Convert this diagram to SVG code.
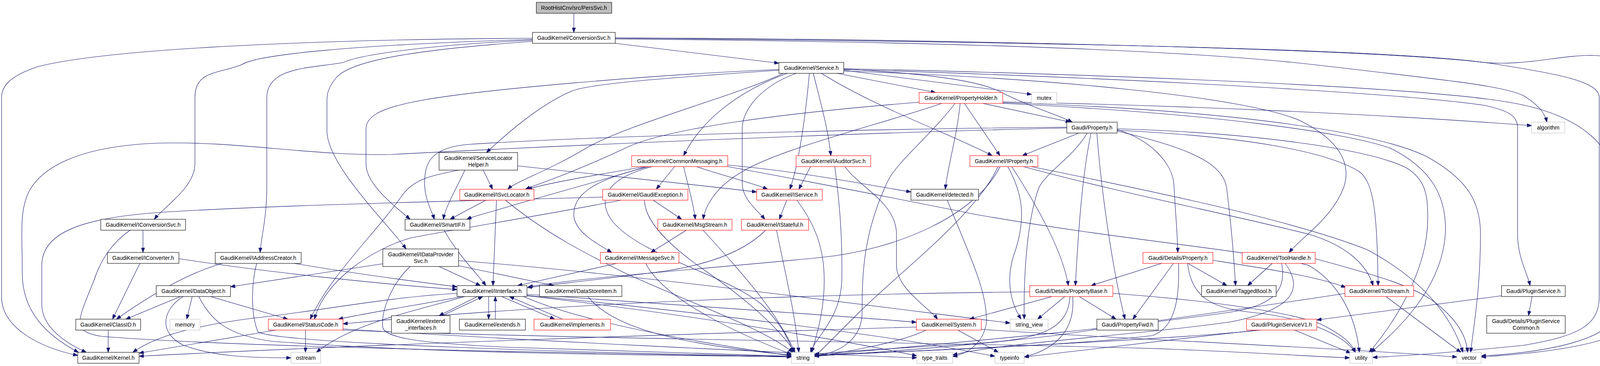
<svg xmlns="http://www.w3.org/2000/svg" width="4207" height="938" viewBox="0 0 4207 938">
<style>
rect{stroke-width:1.1}
.nb rect{fill:#fff;stroke:#000}
.nr rect{fill:#fff;stroke:#ff0000}
.ng rect{fill:#fff;stroke:#bfbfbf}
.root rect{fill:#bfbfbf;stroke:#000}
text{font-family:"Liberation Sans",Arial,sans-serif;font-size:14px;fill:#000;text-anchor:middle}
#edges path{fill:none;stroke:#191970;stroke-width:1.1;marker-end:url(#a)}
</style>
<defs>
<marker id="a" markerUnits="userSpaceOnUse" markerWidth="12" markerHeight="9" refX="12" refY="4.5" orient="auto"><path d="M0,0 L12,4.5 L0,9 z" fill="#191970" stroke="#191970" stroke-width="1"/></marker>
</defs>
<rect x="0" y="0" width="4207" height="938" fill="#fff"/>
<g id="edges">
<path d="M1469,34 L1469,83"/>
<path d="M1575,111 L1994,162"/>
<path d="M1363,98 C900,100 300,120 100,170 C20,195 4,225 4,250 L4,760 C4,840 100,890 199,911"/>
<path d="M1363,101 C900,115 660,140 620,165 C560,190 499,180 499,250 L499,420 C499,480 420,530 395,562"/>
<path d="M1363,103 C1100,115 920,140 880,160 C800,175 683,170 683,250 L683,480 C683,560 668,610 666,647"/>
<path d="M1363,106 C1100,125 900,150 860,200 C840,225 837,240 837,260 L837,335 C837,420 980,560 1040,638"/>
<path d="M1575,100 C2200,105 3000,120 3400,170 C3700,205 3850,220 3900,245 C3940,270 3955,290 3960,313"/>
<path d="M1575,98 C2400,105 3500,120 3800,160 C4000,190 4094,210 4094,250 L4094,760 C4094,830 4050,860 3900,885 C3700,905 3600,912 3514,916"/>
<path d="M1575,97 C2400,100 3500,125 3800,160 C3900,170 4000,140 4080,142 C4170,145 4191,200 4191,250 L4191,800 C4191,880 3950,905 3792,915"/>
<path d="M1994,178 C1700,190 1200,230 1050,263 C970,280 937,300 937,330 L937,420 C937,470 1000,520 1050,562"/>
<path d="M1994,180 C1700,200 1500,215 1460,235 C1380,270 1300,340 1245,391"/>
<path d="M2005,188 C1900,240 1600,320 1500,380 C1400,440 1320,465 1300,485"/>
<path d="M2015,188 C1900,230 1800,300 1750,399"/>
<path d="M2038,188 C1950,220 1900,280 1900,330 L1900,470 C1900,510 1940,540 1958,562"/>
<path d="M2072,188 C2062,300 2045,420 2022,485"/>
<path d="M2082,188 C2100,260 2120,330 2127,399"/>
<path d="M2103,188 C2250,280 2450,350 2540,399"/>
<path d="M2143,188 L2395,237"/>
<path d="M2160,180 L2641,242"/>
<path d="M2160,177 C2400,190 2520,210 2570,240 C2640,275 2710,295 2745,313"/>
<path d="M2160,176 C2800,190 3600,220 3850,260 C4050,290 4134,380 4134,470 L4134,800 C4134,870 3950,905 3792,912"/>
<path d="M2160,178 C2900,200 3600,240 3800,270 C3870,285 3885,300 3885,330 L3885,600 C3885,660 3910,700 3917,732"/>
<path d="M2160,182 C2700,200 3200,250 3330,310 C3430,360 3460,420 3440,480 C3410,560 3330,610 3300,647"/>
<path d="M2353,262 C2000,290 1700,330 1600,380 C1450,450 1380,470 1345,485"/>
<path d="M2411,265 C2250,320 2000,380 1900,440 C1830,480 1805,530 1800,562"/>
<path d="M2445,265 C2380,350 2290,420 2270,470 C2210,600 2207,700 2207,800 C2207,870 2150,905 2085,912"/>
<path d="M2458,265 C2450,350 2425,430 2420,485"/>
<path d="M2469,265 L2560,399"/>
<path d="M2516,265 L2740,313"/>
<path d="M2567,261 C3000,270 3500,290 3921,322"/>
<path d="M2567,263 C3100,280 3500,330 3650,400 C3760,460 3790,520 3790,600 C3790,750 3770,850 3765,903"/>
<path d="M2567,265 C3100,290 3450,340 3560,380 C3660,430 3705,500 3700,600 C3690,750 3560,860 3510,903"/>
<path d="M2731,328 C2200,340 1500,370 1000,396 C800,400 600,360 400,367 C200,375 100,430 70,500 C50,550 57,600 57,700 C57,800 120,860 201,903"/>
<path d="M2731,326 C2200,330 1500,350 1200,370 C1100,378 1087,420 1087,470 C1087,510 1105,540 1112,562"/>
<path d="M2762,341 L2617,399"/>
<path d="M2783,341 C2750,400 2680,440 2660,480 C2630,560 2620,700 2622,818"/>
<path d="M2793,341 C2770,450 2760,600 2753,732"/>
<path d="M2808,341 C2820,500 2850,700 2880,818"/>
<path d="M2860,332 C2950,360 3000,420 3005,470 C3010,560 3015,610 3015,647"/>
<path d="M2860,336 C3050,380 3130,420 3140,480 C3155,600 3160,680 3163,732"/>
<path d="M2860,330 C3200,340 3500,380 3600,430 C3650,460 3655,500 3655,560 C3655,700 3560,840 3505,903"/>
<path d="M2860,334 C3200,350 3400,390 3480,440 C3520,470 3525,560 3528,732"/>
<path d="M366,590 L366,647"/>
<path d="M333,590 C290,620 260,660 240,720 C200,820 180,850 260,862 C600,890 1500,905 2026,915"/>
<path d="M358,675 L288,818"/>
<path d="M458,663 C700,700 1000,730 1170,742"/>
<path d="M569,675 C480,700 380,760 298,818"/>
<path d="M753,675 C900,700 1050,720 1170,735"/>
<path d="M657,675 C645,720 640,800 660,850 C700,880 1500,905 2026,913"/>
<path d="M462,760 L322,818"/>
<path d="M492,760 L478,818"/>
<path d="M469,760 C420,790 400,850 470,885 C550,915 650,917 745,917"/>
<path d="M539,760 L737,818"/>
<path d="M509,760 C540,820 580,860 700,875 C1100,905 1600,910 2026,914"/>
<path d="M277,846 L277,903"/>
<path d="M706,846 L356,905"/>
<path d="M782,846 L782,903"/>
<path d="M878,843 C1300,870 2000,905 2347,917"/>
<path d="M878,846 C1500,870 2600,880 3000,895 C3250,905 3380,915 3455,917"/>
<path d="M1170,752 C1000,760 800,800 643,816 C500,835 400,860 340,903"/>
<path d="M1184,760 C1050,785 950,800 866,818"/>
<path d="M1190,760 C1050,800 900,830 810,903"/>
<path d="M1222,760 L1124,809"/>
<path d="M1132,809 L1236,760"/>
<path d="M1251,760 L1251,818"/>
<path d="M1268,818 L1268,760"/>
<path d="M1284,760 L1420,818"/>
<path d="M1440,818 L1304,760"/>
<path d="M1349,754 C1700,780 2100,805 2346,826"/>
<path d="M1349,758 C1800,810 2200,880 2347,912"/>
<path d="M1349,757 C1700,790 2100,840 2300,870 C2450,893 2500,905 2547,913"/>
<path d="M1340,760 C1500,830 1800,880 2026,912"/>
<path d="M1505,760 C1560,830 1700,880 2026,910"/>
<path d="M980,676 L590,735"/>
<path d="M1124,683 L1230,732"/>
<path d="M1174,681 L1418,732"/>
<path d="M1174,668 C1600,700 2200,780 2586,828"/>
<path d="M1050,683 C1000,730 975,800 980,840 C990,870 1100,880 1300,890 C1600,900 1850,908 2026,913"/>
<path d="M1190,436 C1170,480 1140,530 1135,562"/>
<path d="M1237,436 L1261,485"/>
<path d="M1175,436 C1100,450 1060,460 1030,500 C960,600 850,700 794,818"/>
<path d="M1325,425 C1550,450 1800,475 1937,492"/>
<path d="M1650,427 C1550,445 1420,465 1350,485"/>
<path d="M1655,427 C1550,460 1400,500 1300,530 C1240,548 1210,555 1195,562"/>
<path d="M1662,427 C1520,460 1460,500 1470,560 C1480,600 1530,625 1566,647"/>
<path d="M1670,427 C1540,460 1530,520 1570,570 C1650,660 1850,700 1950,780 C2000,830 2020,870 2030,903"/>
<path d="M1727,427 L1680,485"/>
<path d="M1750,427 C1760,470 1775,520 1780,562"/>
<path d="M1783,427 C1850,450 1930,470 1965,485"/>
<path d="M1863,423 C2050,440 2200,470 2332,492"/>
<path d="M1863,427 C2100,470 2300,510 2500,550 C2900,620 3200,640 3350,680 C3420,720 3470,800 3480,903"/>
<path d="M2075,427 L2045,485"/>
<path d="M2163,427 C2200,480 2295,520 2295,600 L2295,680 C2295,740 2380,790 2400,818"/>
<path d="M2137,427 C2150,520 2157,620 2155,720 C2150,820 2090,860 2075,903"/>
<path d="M2560,427 C2500,550 2300,640 2100,660 C1800,690 1500,710 1352,735"/>
<path d="M2555,427 C2500,550 2300,700 2200,800 C2150,850 2110,890 2085,915"/>
<path d="M2580,427 C2620,500 2625,560 2600,640 C2570,720 2590,780 2614,818"/>
<path d="M2590,427 C2650,520 2720,640 2735,732"/>
<path d="M2640,427 C2900,480 3300,560 3500,640 C3650,720 3720,820 3745,903"/>
<path d="M2620,427 C2850,490 3150,550 3350,600 C3450,630 3500,680 3515,732"/>
<path d="M1244,513 L1152,562"/>
<path d="M1271,513 C1268,600 1264,680 1262,732"/>
<path d="M1294,513 C1400,600 1500,650 1600,700 C1800,790 1950,840 2030,903"/>
<path d="M1543,505 C1200,515 700,525 400,545 C200,560 107,600 107,680 L107,780 C107,840 170,880 221,903"/>
<path d="M1590,513 C1400,550 1150,590 1050,610 C950,640 830,720 805,818"/>
<path d="M1672,513 L1745,562"/>
<path d="M1650,513 C1650,560 1700,620 1800,690 C1930,780 2000,850 2035,903"/>
<path d="M2014,513 L1995,562"/>
<path d="M2040,513 C2090,580 2110,640 2110,720 C2110,800 2090,860 2078,903"/>
<path d="M1757,590 L1666,647"/>
<path d="M1800,590 C1900,700 1990,800 2035,903"/>
<path d="M1960,590 C1900,650 1800,680 1700,695 C1550,715 1420,728 1350,737"/>
<path d="M1988,590 C2010,700 2035,800 2045,903"/>
<path d="M1579,675 L1325,732"/>
<path d="M1653,675 C1700,770 1900,860 2026,908"/>
<path d="M2425,513 C2480,650 2530,750 2525,830 C2515,880 2480,905 2439,914"/>
<path d="M1137,590 C1170,650 1220,700 1244,732"/>
<path d="M2636,748 C2000,755 1400,780 878,830"/>
<path d="M2693,760 L2482,818"/>
<path d="M2726,760 L2656,818"/>
<path d="M2763,760 L2857,818"/>
<path d="M2739,760 C2735,850 2650,870 2500,880 C2300,893 2150,900 2085,908"/>
<path d="M2746,760 C2752,830 2720,890 2622,915"/>
<path d="M2849,752 C3100,770 3300,800 3380,830 C3440,860 3460,880 3470,903"/>
<path d="M2974,675 L2793,732"/>
<path d="M3004,675 L2900,818"/>
<path d="M3041,675 L3141,732"/>
<path d="M3105,667 C3250,690 3380,710 3445,737"/>
<path d="M3017,675 C3020,760 3010,840 2950,860 C2700,890 2300,900 2085,910"/>
<path d="M3040,675 C3050,760 3100,790 3200,800 C3350,815 3440,860 3470,903"/>
<path d="M3257,675 L3194,732"/>
<path d="M3367,663 C3500,700 3620,730 3680,780 C3740,830 3755,870 3757,903"/>
<path d="M3281,675 C3290,730 3280,780 3150,800 C2800,850 2300,890 2085,912"/>
<path d="M3290,675 C3330,730 3330,790 3150,825 C2900,860 2550,880 2439,910"/>
<path d="M3548,760 L3740,903"/>
<path d="M3443,752 C3200,790 2900,830 2700,860 C2400,895 2200,905 2085,913"/>
<path d="M3844,758 L3371,820"/>
<path d="M3922,760 L3913,809"/>
<path d="M3314,846 L3458,905"/>
<path d="M3227,846 C3000,870 2500,892 2085,912"/>
<path d="M3220,846 C3000,870 2750,900 2622,915"/>
<path d="M2346,838 C1800,855 1000,880 356,913"/>
<path d="M2371,846 C2300,880 2150,905 2085,913"/>
<path d="M2452,846 L2556,903"/>
<path d="M2512,844 C2800,865 3400,890 3730,915"/>
</g>
<g id="n0" class="root"><rect x="1373" y="6" width="193" height="28"/><text x="1469.5" y="25">RootHistCnv/src/PersSvc.h</text></g>
<g id="n1" class="nb"><rect x="1363" y="83" width="212" height="28"/><text x="1469" y="102">GaudiKernel/ConversionSvc.h</text></g>
<g id="n2" class="nb"><rect x="1994" y="160" width="166" height="28"/><text x="2077" y="179">GaudiKernel/Service.h</text></g>
<g id="n3" class="nr"><rect x="2353" y="237" width="214" height="28"/><text x="2460" y="256">GaudiKernel/PropertyHolder.h</text></g>
<g id="n4" class="ng"><rect x="2641" y="237" width="64" height="28"/><text x="2673" y="256">mutex</text></g>
<g id="n5" class="nb"><rect x="2731" y="313" width="129" height="28"/><text x="2795.5" y="332">Gaudi/Property.h</text></g>
<g id="n6" class="ng"><rect x="3921" y="313" width="85" height="28"/><text x="3963.5" y="332">algorithm</text></g>
<g id="n7" class="nb"><rect x="1124" y="391" width="201" height="45"/><text x="1224.5" y="410">GaudiKernel/ServiceLocator</text><text x="1224.5" y="427">Helper.h</text></g>
<g id="n8" class="nr"><rect x="1617" y="399" width="246" height="28"/><text x="1740" y="418">GaudiKernel/CommonMessaging.h</text></g>
<g id="n9" class="nr"><rect x="2038" y="399" width="191" height="28"/><text x="2133.5" y="418">GaudiKernel/IAuditorSvc.h</text></g>
<g id="n10" class="nr"><rect x="2483" y="399" width="174" height="28"/><text x="2570" y="418">GaudiKernel/IProperty.h</text></g>
<g id="n11" class="nr"><rect x="1177" y="485" width="190" height="28"/><text x="1272" y="504">GaudiKernel/ISvcLocator.h</text></g>
<g id="n12" class="nr"><rect x="1543" y="485" width="218" height="28"/><text x="1652" y="504">GaudiKernel/GaudiException.h</text></g>
<g id="n13" class="nr"><rect x="1937" y="485" width="168" height="28"/><text x="2021" y="504">GaudiKernel/IService.h</text></g>
<g id="n14" class="nb"><rect x="2332" y="485" width="173" height="28"/><text x="2418.5" y="504">GaudiKernel/detected.h</text></g>
<g id="n15" class="nb"><rect x="258" y="562" width="217" height="28"/><text x="366.5" y="581">GaudiKernel/IConversionSvc.h</text></g>
<g id="n16" class="nb"><rect x="1037" y="562" width="166" height="28"/><text x="1120" y="581">GaudiKernel/SmartIF.h</text></g>
<g id="n17" class="nr"><rect x="1684" y="562" width="190" height="28"/><text x="1779" y="581">GaudiKernel/MsgStream.h</text></g>
<g id="n18" class="nr"><rect x="1898" y="562" width="172" height="28"/><text x="1984" y="581">GaudiKernel/IStateful.h</text></g>
<g id="n19" class="nb"><rect x="275" y="647" width="183" height="28"/><text x="366.5" y="666">GaudiKernel/IConverter.h</text></g>
<g id="n20" class="nb"><rect x="551" y="647" width="220" height="28"/><text x="661" y="666">GaudiKernel/IAddressCreator.h</text></g>
<g id="n21" class="nb"><rect x="980" y="638" width="194" height="45"/><text x="1077" y="657">GaudiKernel/IDataProvider</text><text x="1077" y="674">Svc.h</text></g>
<g id="n22" class="nr"><rect x="1537" y="647" width="201" height="28"/><text x="1637.5" y="666">GaudiKernel/IMessageSvc.h</text></g>
<g id="n23" class="nr"><rect x="2926" y="647" width="179" height="28"/><text x="3015.5" y="666">Gaudi/Details/Property.h</text></g>
<g id="n24" class="nr"><rect x="3180" y="647" width="187" height="28"/><text x="3273.5" y="666">GaudiKernel/ToolHandle.h</text></g>
<g id="n25" class="nb"><rect x="400" y="732" width="190" height="28"/><text x="495" y="751">GaudiKernel/DataObject.h</text></g>
<g id="n26" class="nb"><rect x="1170" y="732" width="179" height="28"/><text x="1259.5" y="751">GaudiKernel/IInterface.h</text></g>
<g id="n27" class="nb"><rect x="1381" y="732" width="211" height="28"/><text x="1486.5" y="751">GaudiKernel/DataStoreItem.h</text></g>
<g id="n28" class="nr"><rect x="2636" y="732" width="213" height="28"/><text x="2742.5" y="751">Gaudi/Details/PropertyBase.h</text></g>
<g id="n29" class="nb"><rect x="3076" y="732" width="191" height="28"/><text x="3171.5" y="751">GaudiKernel/TaggedBool.h</text></g>
<g id="n30" class="nr"><rect x="3443" y="732" width="176" height="28"/><text x="3531" y="751">GaudiKernel/ToStream.h</text></g>
<g id="n31" class="nb"><rect x="3844" y="732" width="163" height="28"/><text x="3925.5" y="751">Gaudi/PluginService.h</text></g>
<g id="n32" class="nb"><rect x="194" y="818" width="166" height="28"/><text x="277" y="837">GaudiKernel/ClassID.h</text></g>
<g id="n33" class="ng"><rect x="435" y="818" width="77" height="28"/><text x="473.5" y="837">memory</text></g>
<g id="n34" class="nr"><rect x="687" y="818" width="191" height="28"/><text x="782.5" y="837">GaudiKernel/StatusCode.h</text></g>
<g id="n35" class="nb"><rect x="1002" y="809" width="150" height="45"/><text x="1077" y="828">GaudiKernel/extend</text><text x="1077" y="845">_interfaces.h</text></g>
<g id="n36" class="nb"><rect x="1176" y="818" width="169" height="28"/><text x="1260.5" y="837">GaudiKernel/extends.h</text></g>
<g id="n37" class="nr"><rect x="1367" y="818" width="196" height="28"/><text x="1465" y="837">GaudiKernel/implements.h</text></g>
<g id="n38" class="nr"><rect x="2346" y="818" width="166" height="28"/><text x="2429" y="837">GaudiKernel/System.h</text></g>
<g id="n39" class="ng"><rect x="2586" y="818" width="97" height="28"/><text x="2634.5" y="837">string_view</text></g>
<g id="n40" class="nb"><rect x="2808" y="818" width="157" height="28"/><text x="2886.5" y="837">Gaudi/PropertyFwd.h</text></g>
<g id="n41" class="nr"><rect x="3191" y="818" width="180" height="28"/><text x="3281" y="837">Gaudi/PluginServiceV1.h</text></g>
<g id="n42" class="nb"><rect x="3806" y="809" width="201" height="45"/><text x="3906.5" y="828">Gaudi/Details/PluginService</text><text x="3906.5" y="845">Common.h</text></g>
<g id="n43" class="nb"><rect x="199" y="903" width="157" height="28"/><text x="277.5" y="922">GaudiKernel/Kernel.h</text></g>
<g id="n44" class="ng"><rect x="745" y="903" width="76" height="28"/><text x="783" y="922">ostream</text></g>
<g id="n45" class="ng"><rect x="2026" y="903" width="59" height="28"/><text x="2055.5" y="922">string</text></g>
<g id="n46" class="ng"><rect x="2347" y="903" width="92" height="28"/><text x="2393" y="922">type_traits</text></g>
<g id="n47" class="ng"><rect x="2547" y="903" width="75" height="28"/><text x="2584.5" y="922">typeinfo</text></g>
<g id="n48" class="ng"><rect x="3455" y="903" width="59" height="28"/><text x="3484.5" y="922">utility</text></g>
<g id="n49" class="ng"><rect x="3730" y="903" width="62" height="28"/><text x="3761" y="922">vector</text></g>
</svg>
